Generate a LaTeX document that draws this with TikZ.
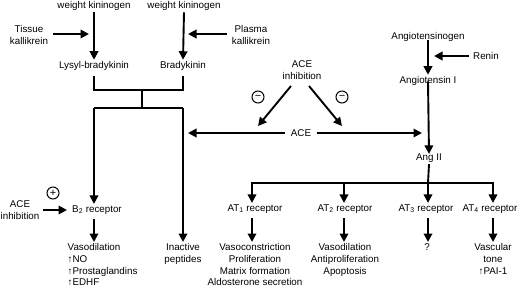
\documentclass[tikz,border=0pt]{standalone}
\usepackage{fontspec}
\setmainfont{Liberation Sans}
\usetikzlibrary{arrows.meta}
\begin{document}
\begin{tikzpicture}[x=1pt,y=-1pt,
  every node/.style={font=\fontsize{9.8}{11.7}\selectfont, inner sep=1.5pt, align=center},
  ln/.style={line width=1.9pt},
  arr/.style={line width=1.9pt,-{Triangle[length=8.5pt,width=8.5pt]}},
  sgn/.style={circle,draw,line width=1pt,minimum size=12pt,inner sep=0pt,font=\fontsize{11}{11}\selectfont}]
\useasboundingbox (0,0) rectangle (520,292);
% kinin side
\node (wk1) at (94,6) {weight kininogen};
\node (wk2) at (184,6) {weight kininogen};
\node (tk) at (29,35) {Tissue\\kallikrein};
\node (pk) at (251,35) {Plasma\\kallikrein};
\node (lb) at (94,66) {Lysyl-bradykinin};
\node (bk) at (183,66) {Bradykinin};
\coordinate (tkend) at (89,34);
\coordinate (pkend) at (188,34);
\draw[arr] (wk1.south) -- (lb.north);
\draw[arr] (wk2.south) -- (bk.north);
\draw[arr] (tk.east) ++(3,-1) -- (tkend);
\draw[arr] (pk.west) ++(-3,-1) -- (pkend);
% bracket
\coordinate (j1) at (94,90);
\coordinate (j2) at (183,90);
\coordinate (jm) at (142,90);
\coordinate (jm2) at (142,108);
\coordinate (k1) at (94,108);
\coordinate (k2) at (183,108);
\draw[ln] ([yshift=-4pt]lb.south) -- (j1) -- (j2) -- ([yshift=-4pt]bk.south);
\draw[ln] (jm) -- (jm2);
\draw[ln] (k1) -- (k2);
% ACE
\node (aceinh) at (302,70) {ACE\\inhibition};
\node[sgn] (m1) at (258,97) {−};
\node[sgn] (m2) at (342,97) {−};
\node (ace) at (301,133) {ACE};
\coordinate (aceL) at (188,133);
\coordinate (aceR) at (422,133);
\coordinate (ai1) at (291,86);
\coordinate (ai2) at (309,86);
\coordinate (ai1e) at (258,126);
\coordinate (ai2e) at (342,126);
\draw[arr] (ai1) -- (ai1e);
\draw[arr] (ai2) -- (ai2e);
\draw[arr] ([xshift=-4pt]ace.west) -- (aceL);
\draw[arr] ([xshift=4pt]ace.east) -- (aceR);
% angiotensin side
\node (agen) at (428,37) {Angiotensinogen};
\node (renin) at (486,56) {Renin};
\node (ang1) at (428,81) {Angiotensin I};
\node (ang2) at (429,158) {Ang II};
\coordinate (reninend) at (434,56);
\draw[arr] ([yshift=3pt]agen.south -| ang1.north) -- (ang1.north);
\draw[arr] (renin.west) ++(-3,0) -- (reninend);
\draw[arr] ([yshift=6pt]ang1.south) -- ([yshift=-2pt]ang2.north);
% B2 side
\node (aceinh2) at (20,210) {ACE\\inhibition};
\node[sgn] (p1) at (53,193) {+};
\node (b2) at (97,210) {B\textsubscript{2} receptor};
\node[anchor=north west, align=left] (b2eff) at (66,242) {Vasodilation\\↑NO\\↑Prostaglandins\\↑EDHF};
\node[anchor=north] (inact) at (183,242) {Inactive\\peptides};
\coordinate (b2in) at (67,210);
\draw[arr] (aceinh2.east) ++(2,0) -- (b2in);
\draw[arr] (k1) -- (k1 |- b2.north);
\draw[arr] (k2) -- (inact.north);
\draw[arr] ([yshift=-3pt]b2.south -| k1) -- (k1 |- b2eff.north);
% AT receptors
\node (at1) at (255,209) {AT\textsubscript{1} receptor};
\node (at2) at (345,209) {AT\textsubscript{2} receptor};
\node (at3) at (426,209) {AT\textsubscript{3} receptor};
\node (at4) at (490,209) {AT\textsubscript{4} receptor};
\coordinate (h1) at (252,183);
\coordinate (h2) at (344,183);
\coordinate (h3) at (428,183);
\coordinate (h4) at (493,183);
\draw[ln] (ang2.south) -- (h3);
\draw[ln] (h1) -- (h4);
\draw[arr] ([yshift=0.95pt]h1) -- (h1 |- at1.north);
\draw[arr] (h2) -- (h2 |- at2.north);
\draw[arr] (h3) -- (h3 |- at3.north);
\draw[arr] ([yshift=0.95pt]h4) -- (h4 |- at4.north);
\node[anchor=north] (e1) at (255,242) {Vasoconstriction\\Proliferation\\Matrix formation\\Aldosterone secretion};
\node[anchor=north] (e2) at (345,242) {Vasodilation\\Antiproliferation\\Apoptosis};
\node[anchor=north] (e3) at (427,242) {?};
\node[anchor=north] (e4) at (493,242) {Vascular\\tone\\↑PAI-1};
\draw[arr] ([yshift=-3pt]at1.south -| h1) -- (h1 |- e1.north);
\draw[arr] ([yshift=-3pt]at2.south -| h2) -- (h2 |- e2.north);
\draw[arr] ([yshift=-3pt]at3.south -| h3) -- (h3 |- e3.north);
\draw[arr] ([yshift=-3pt]at4.south -| h4) -- (h4 |- e4.north);
\end{tikzpicture}
\end{document}
